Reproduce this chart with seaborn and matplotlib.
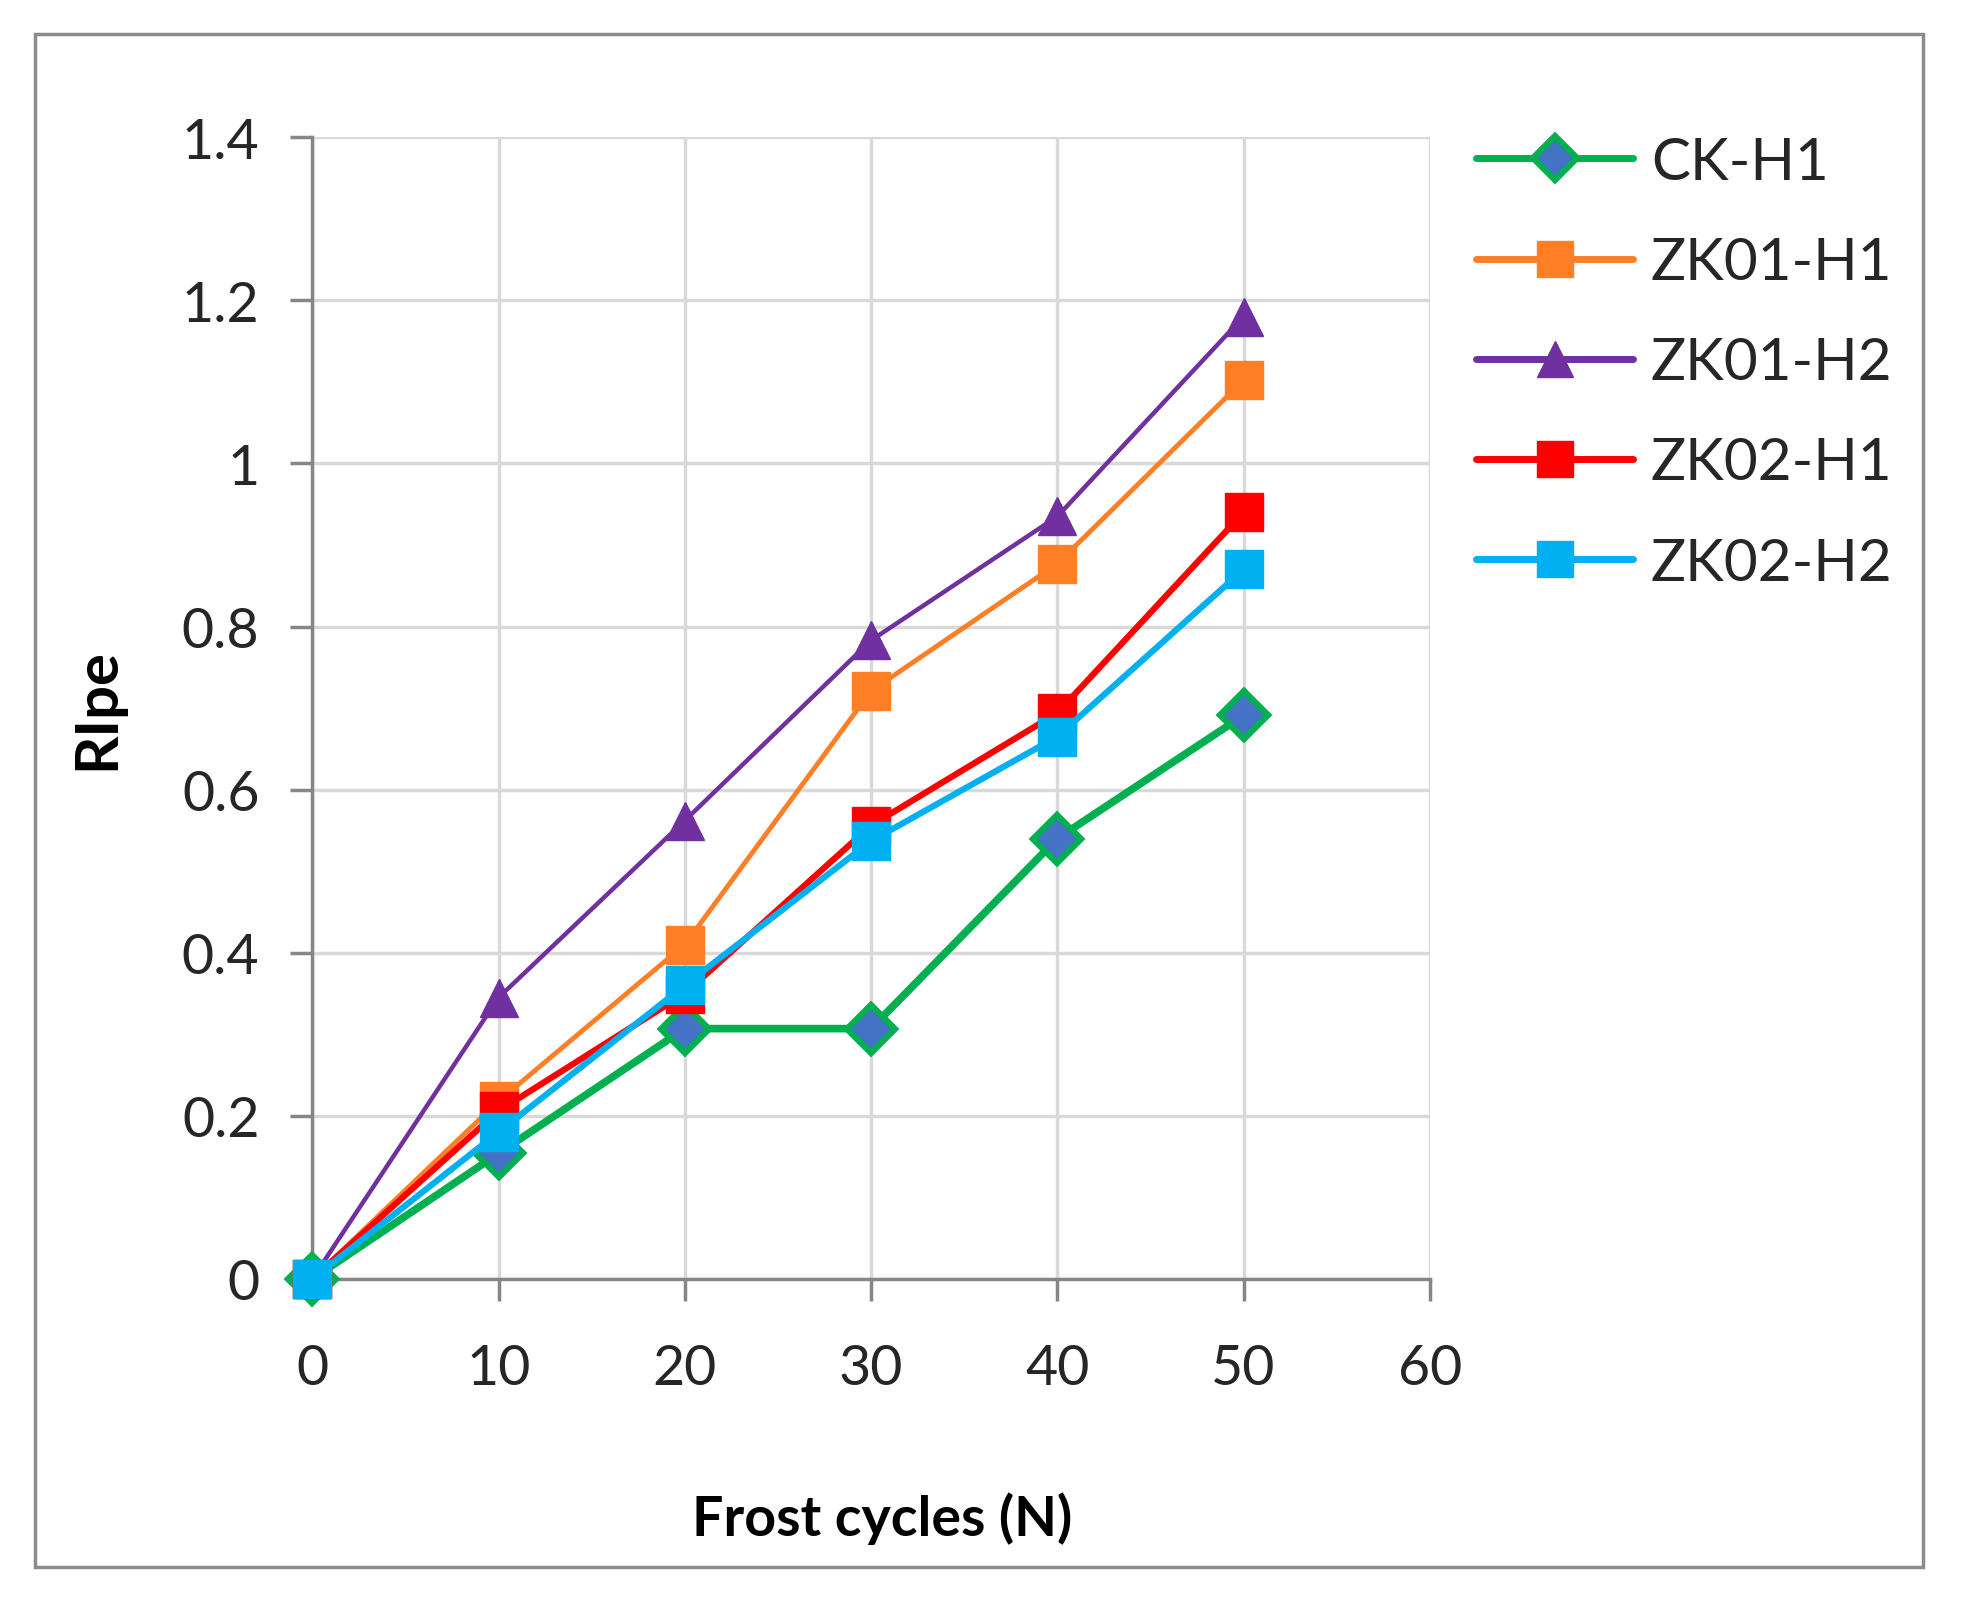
import seaborn as sns
import matplotlib.pyplot as plt
import matplotlib.patches as mpatches
from matplotlib.ticker import FuncFormatter
import pandas as pd

plt.switch_backend('Agg')

# Data
cycles = [0, 10, 20, 30, 40, 50]
series_names = ['CK-H1', 'ZK01-H1', 'ZK01-H2', 'ZK02-H1', 'ZK02-H2']
ck_h1 = [0, 0.154, 0.307, 0.307, 0.540, 0.691]
zk01_h1 = [0, 0.218, 0.410, 0.721, 0.877, 1.102]
zk01_h2 = [0, 0.345, 0.562, 0.783, 0.935, 1.180]
zk02_h1 = [0, 0.206, 0.350, 0.556, 0.694, 0.940]
zk02_h2 = [0, 0.180, 0.360, 0.537, 0.665, 0.870]
x_ticks = [0, 10, 20, 30, 40, 50, 60]
y_ticks = [0, 0.2, 0.4, 0.6, 0.8, 1.0, 1.2, 1.4]

values = [ck_h1, zk01_h1, zk01_h2, zk02_h1, zk02_h2]
rows = []
for name, vals in zip(series_names, values):
    for c, v in zip(cycles, vals):
        rows.append({'cycles': c, 'RIpe': v, 'series': name})
df = pd.DataFrame(rows)

# styling per series
styles = {
    'CK-H1':   dict(color='#00B050', marker='D', lw=5.5, ms=24, mfc='#4472C4', mec='#00B050', mew=4.5),
    'ZK01-H1': dict(color='#FF7F27', marker='s', lw=3.5, ms=27, mfc='#FF7F27', mec='#FF7F27', mew=1),
    'ZK01-H2': dict(color='#7030A0', marker='^', lw=3.2, ms=28, mfc='#7030A0', mec='#7030A0', mew=1),
    'ZK02-H1': dict(color='#FF0000', marker='s', lw=4.5, ms=27, mfc='#FF0000', mec='#FF0000', mew=1),
    'ZK02-H2': dict(color='#00B0F0', marker='s', lw=4.5, ms=27, mfc='#00B0F0', mec='#00B0F0', mew=1),
}

sns.set_theme(style="white")
plt.rcParams['font.family'] = ['Lato', 'DejaVu Sans']

fig = plt.figure(figsize=(19.64, 16.08), dpi=100)
ax = fig.add_axes([0.159, 0.204, 0.569, 0.710])

for name in series_names:
    st = styles[name]
    sub = df[df['series'] == name]
    sns.lineplot(data=sub, x='cycles', y='RIpe', ax=ax, label=name,
                 color=st['color'], linewidth=st['lw'], marker=st['marker'],
                 markersize=st['ms'], markerfacecolor=st['mfc'],
                 markeredgecolor=st['mec'], markeredgewidth=st['mew'],
                 clip_on=False, zorder=3)

ax.set_xlim(0, 60)
ax.set_ylim(0, 1.4)
ax.set_xticks(x_ticks)
ax.set_yticks(y_ticks)
ax.yaxis.set_major_formatter(FuncFormatter(lambda v, p: f'{v:g}'))

ax.grid(True, color='#D9D9D9', linewidth=2.5, zorder=0)
ax.set_axisbelow(True)
for side in ['top', 'right']:
    ax.spines[side].set_visible(False)
for side in ['left', 'bottom']:
    ax.spines[side].set_color('#868686')
    ax.spines[side].set_linewidth(2.5)

ax.tick_params(axis='both', which='major', direction='out', length=16, width=2.5,
               color='#868686', labelsize=40, labelcolor='#262626',
               left=True, bottom=True)
ax.tick_params(axis='x', pad=30)
ax.tick_params(axis='y', pad=22)

ax.set_xlabel('Frost cycles (N)', fontsize=40, fontweight='bold', color='#000000')
ax.set_ylabel('RIpe', fontsize=43, fontweight='bold', color='#000000')
ax.xaxis.set_label_coords(0.51, -0.186)
ax.yaxis.set_label_coords(-0.168, 0.5)

handles, labels = ax.get_legend_handles_labels()
ax.get_legend().remove()
leg = fig.legend(handles, labels, loc='upper left', bbox_to_anchor=(0.7515, 0.915),
                 frameon=False, fontsize=42, handlelength=2.7, handletextpad=0.3,
                 labelspacing=0.81, borderpad=0, borderaxespad=0, markerscale=0.95)
for t in leg.get_texts():
    t.set_color('#262626')
for line in leg.get_lines():
    line.set_linewidth(5)

# outer frame around the chart
fig.patches.append(mpatches.Rectangle((35 / 1964, 40 / 1608), 1888 / 1964, 1533 / 1608,
                                      transform=fig.transFigure, fill=False,
                                      edgecolor='#8C8C8C', linewidth=2.5))

fig.savefig('out.png', dpi=100, facecolor='white')
plt.close(fig)
